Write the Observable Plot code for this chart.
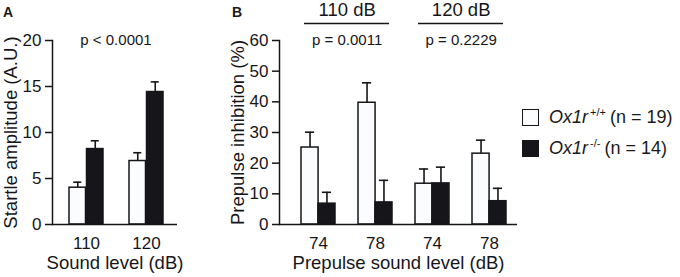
<!DOCTYPE html>
<html>
<head>
<meta charset="utf-8">
<script src="https://cdn.jsdelivr.net/npm/d3@7"></script>
<script src="https://cdn.jsdelivr.net/npm/@observablehq/plot@0.6"></script>
<style>
  html, body { margin: 0; padding: 0; background: #fff; }
  #wrap { position: relative; width: 680px; height: 277px; overflow: hidden;
          font-family: "Liberation Sans", Arial, Helvetica, sans-serif; color: #1a1a1a; }
  #wrap svg { position: absolute; top: 0; }
  .letter { position: absolute; font-weight: bold; font-size: 14px; line-height: 14px; }
  .lrow { position: absolute; left: 522px; display: flex; align-items: center; height: 18px;
          font-size: 18px; white-space: nowrap; }
  .box { width: 17px; height: 17px; box-sizing: border-box; border: 1.5px solid #16161a; }
  .lrow .txt { margin-left: 10px; }
  .lrow i { font-style: italic; }
  .lrow sup { font-size: 11px; vertical-align: 7px; line-height: 0; margin-left: 2px; margin-right: 4px; }
</style>
</head>
<body>
<div id="wrap"></div>
<script>
// ---------- data ----------
const soundLevels = ["110", "120"];
const startleWT = [4.0, 6.9];
const startleWTsem = [0.6, 0.9];
const startleKO = [8.2, 14.4];
const startleKOsem = [0.9, 1.1];
const startleTicks = [0, 5, 10, 15, 20];
const startleP = "p < 0.0001";

const ppiKeys = ["110-74", "110-78", "120-74", "120-78"];
const ppiTickLabels = ["74", "78", "74", "78"];
const ppiWT = [25.1, 39.7, 13.3, 23.1];
const ppiWTsem = [5.0, 6.5, 4.8, 4.4];
const ppiKO = [6.8, 7.2, 13.4, 7.6];
const ppiKOsem = [3.7, 7.2, 5.3, 4.2];
const ppiTicks = [0, 10, 20, 30, 40, 50, 60];
const pulseGroups = ["110 dB", "120 dB"];
const pulseP = ["p = 0.0011", "p = 0.2229"];

const genoNames = ["Ox1r", "Ox1r"];
const genoSup = ["+/+", "-/-"];
const genoN = ["(n = 19)", "(n = 14)"];

// ---------- style ----------
const INK = "#16161a";
const WHITE = "#fbfcfe";

function makePanel(o) {
  const rows = o.keys.map((k, i) => ({
    key: k, wt: o.wt[i], wtTop: o.wt[i] + o.wtSem[i], ko: o.ko[i], koTop: o.ko[i] + o.koSem[i]
  }));
  const plotW = o.width - o.marginLeft - o.marginRight;
  const step = plotW / (o.keys.length - o.pInner + 2 * o.pOuter);
  const bw = step * (1 - o.pInner);
  const half = bw / 2, q = bw / 4, cap = 9;
  return Plot.plot({
    width: o.width,
    height: 277,
    marginLeft: o.marginLeft,
    marginRight: o.marginRight,
    marginTop: 40,
    marginBottom: 53,
    style: { fontFamily: '"Liberation Sans", Arial, sans-serif', fontSize: "17px", background: "transparent", color: INK, overflow: "visible" },
    x: { type: "band", domain: o.keys, paddingInner: o.pInner, paddingOuter: o.pOuter, align: o.align },
    y: { domain: o.yDomain },
    marks: [
      Plot.barY(rows, { x: "key", y: "wt", fill: WHITE, stroke: INK, strokeWidth: 1.5, insetRight: half }),
      Plot.barY(rows, { x: "key", y: "ko", fill: INK, stroke: INK, strokeWidth: 1.5, insetLeft: half }),
      Plot.ruleX(rows, { x: "key", y1: "wt", y2: "wtTop", dx: -q, stroke: INK, strokeWidth: 1.6 }),
      Plot.tickY(rows, { x: "key", y: "wtTop", insetLeft: q - cap / 2, insetRight: 3 * q - cap / 2, stroke: INK, strokeWidth: 1.6 }),
      Plot.ruleX(rows, { x: "key", y1: "ko", y2: "koTop", dx: q, stroke: INK, strokeWidth: 1.6 }),
      Plot.tickY(rows, { x: "key", y: "koTop", insetLeft: 3 * q - cap / 2, insetRight: q - cap / 2, stroke: INK, strokeWidth: 1.6 }),
      Plot.ruleY([0], { stroke: INK, strokeWidth: 1.5 }),
      Plot.frame({ anchor: "left", stroke: INK, strokeWidth: 1.5 }),
      Plot.axisY({ ticks: o.yTicks, tickSize: 7, tickPadding: 4, fontSize: 17, label: null, strokeWidth: 1.5 }),
      Plot.axisX({ tickSize: 0, tickPadding: 12, fontSize: 17, label: null, tickFormat: (d) => o.tickLabels[o.keys.indexOf(d)] }),
      Plot.text([o.yLabel], { frameAnchor: "left", textAnchor: "middle", lineAnchor: "middle", rotate: -90, dx: -41, fontSize: 18.5, fill: INK }),
      Plot.text([o.xLabel], { frameAnchor: "bottom", textAnchor: "middle", lineAnchor: "middle", dy: 39, fontSize: 18.5, fill: INK }),
      ...o.extra(step)
    ]
  });
}

const wrap = document.getElementById("wrap");

const panelA = makePanel({
  keys: soundLevels, tickLabels: soundLevels,
  wt: startleWT, wtSem: startleWTsem, ko: startleKO, koSem: startleKOsem,
  yDomain: [0, 20], yTicks: startleTicks,
  yLabel: "Startle amplitude (A.U.)", xLabel: "Sound level (dB)",
  width: 230, marginLeft: 52, marginRight: 53,
  pInner: 0.426, pOuter: 0.238, align: 0.55,
  extra: () => [Plot.text([startleP], { frameAnchor: "top", textAnchor: "middle", lineAnchor: "middle", dx: 1, fontSize: 15, fill: INK })]
});
panelA.style.left = "0px";
wrap.appendChild(panelA);

const headers = pulseGroups.map((g, i) => ({ g, p: pulseP[i], k1: ppiKeys[2 * i], k2: ppiKeys[2 * i + 1] }));
const panelB = makePanel({
  keys: ppiKeys, tickLabels: ppiTickLabels,
  wt: ppiWT, wtSem: ppiWTsem, ko: ppiKO, koSem: ppiKOsem,
  yDomain: [0, 60], yTicks: ppiTicks,
  yLabel: "Prepulse inhibition (%)", xLabel: "Prepulse sound level (dB)",
  width: 290, marginLeft: 49, marginRight: 3,
  pInner: 0.41, pOuter: 0.28, align: 0.66,
  extra: (step) => [
    Plot.ruleY(headers, { x1: "k1", x2: "k2", y: () => 60, dy: -17, insetLeft: 3, insetRight: 3, stroke: INK, strokeWidth: 1.6 }),
    Plot.text(headers, { x: "k1", text: "g", frameAnchor: "top", textAnchor: "middle", lineAnchor: "middle", dx: step / 2, dy: -30, fontSize: 18.5, fill: INK }),
    Plot.text(headers, { x: "k1", text: "p", frameAnchor: "top", textAnchor: "middle", lineAnchor: "middle", dx: step / 2, fontSize: 15, fill: INK })
  ]
});
panelB.style.left = "230px";
wrap.appendChild(panelB);

// panel letters
[["A", 3], ["B", 232]].forEach(([t, x]) => {
  const d = document.createElement("div");
  d.className = "letter"; d.textContent = t;
  d.style.left = x + "px"; d.style.top = "5px";
  wrap.appendChild(d);
});

// legend
genoNames.forEach((name, i) => {
  const row = document.createElement("div");
  row.className = "lrow";
  row.style.top = (108 + i * 31) + "px";
  const box = document.createElement("span");
  box.className = "box";
  box.style.background = i === 0 ? WHITE : INK;
  const txt = document.createElement("span");
  txt.className = "txt";
  const it = document.createElement("i"); it.textContent = name;
  const sp = document.createElement("sup"); sp.textContent = genoSup[i];
  txt.appendChild(it); txt.appendChild(sp);
  txt.appendChild(document.createTextNode(genoN[i]));
  row.appendChild(box); row.appendChild(txt);
  wrap.appendChild(row);
});
</script>
</body>
</html>
